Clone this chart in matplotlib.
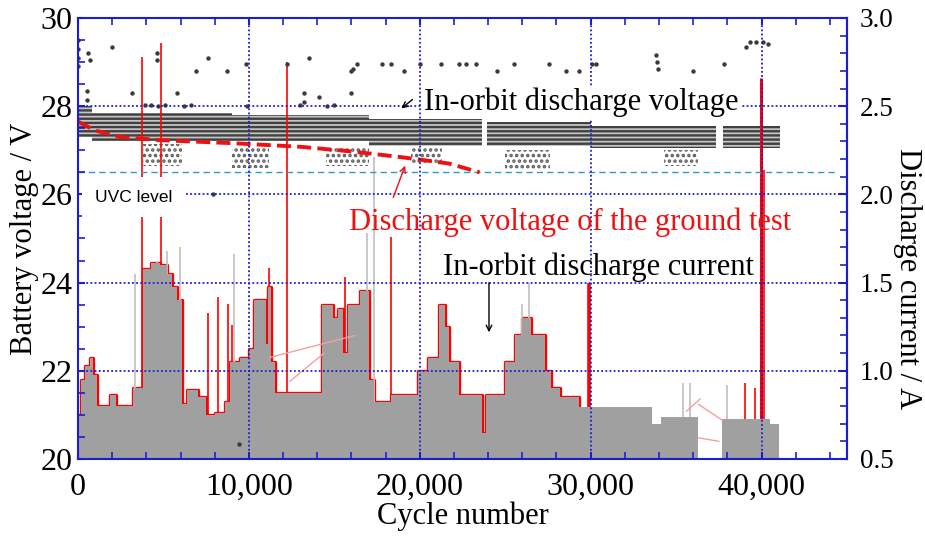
import matplotlib
matplotlib.use("Agg")
import matplotlib.pyplot as plt
from matplotlib.ticker import MultipleLocator, FixedLocator, FuncFormatter
import numpy as np

plt.rcParams['font.family'] = ['Liberation Serif', 'DejaVu Serif']
plt.rcParams['hatch.linewidth'] = 1.7

BLUE = '#1c1cd6'
GRAY = '#a0a0a0'

# discharge current per cycle (A), stepwise
cur_cycle = [0, 200, 400, 700, 900, 1100, 1900, 2200, 3200, 3800,
             4300, 4800, 5200, 5500, 5800, 6100, 6400, 7000, 7500, 8000,
             8600, 8900, 9500, 10000, 10300, 11000, 11100, 11300, 11500, 14300,
             14900, 15200, 15500, 15800, 16500, 17000, 17300, 18300, 19900, 20500,
             21100, 21500, 21700, 22300, 23650, 23900, 25000, 25600, 26000, 26500,
             27300, 27700, 28200, 29300, 33600, 34100, 36300, 37700, 40500, 41000]
cur_amp = [0.75, 0.95, 1.025, 1.075, 0.975, 0.80, 0.86, 0.80, 0.90, 1.575,
           1.61, 1.60, 1.55, 1.475, 1.40, 0.81, 0.89, 0.85, 0.75, 0.76,
           0.825, 1.05, 1.075, 1.125, 1.40, 1.15, 1.475, 1.05, 0.875, 1.375,
           1.30, 1.35, 1.10, 1.375, 1.45, 0.95, 0.825, 0.86, 1.00, 1.075,
           1.375, 1.25, 1.05, 0.86, 0.65, 0.86, 1.05, 1.20, 1.30, 1.20,
           1.00, 0.90, 0.85, 0.795, 0.70, 0.74, 0.50, 0.725, 0.70, 0.50]

# single-cycle current peaks
red_spike_cycle = [3740, 4850, 7590, 8170, 8760, 9000, 11200, 12260, 15600,
                   18300, 29900, 39050, 39600, 39950, 40150]
red_spike_amp = [2.78, 2.86, 1.33, 1.42, 1.38, 1.26, 1.58, 2.75, 1.53,
                 1.76, 1.50, 0.93, 0.90, 2.66, 2.14]
gray_spike_cycle = [3330, 4650, 5200, 5950, 9150, 16900, 17300, 26000, 26400,
                    35400, 35800, 38000]
gray_spike_amp = [1.55, 1.62, 1.68, 1.70, 1.66, 1.78, 2.21, 1.38, 1.50,
                  0.93, 0.93, 0.92]

# telemetry jumps across data gaps
jump_c0 = [11200, 12400, 35600, 36300, 36300]
jump_a0 = [1.075, 0.94, 0.77, 0.81, 0.62]
jump_c1 = [16200, 14400, 36400, 37700, 37500]
jump_a1 = [1.20, 1.10, 0.84, 0.72, 0.60]

# in-orbit discharge voltage: main band and lower scatter clusters (V)
band_start = [0, 800, 9000, 17000, 23950, 30000, 37750]
band_end = [800, 9000, 17000, 23650, 30000, 37350, 41050]
band_top = [28.0, 27.85, 27.8, 27.7, 27.65, 27.55, 27.55]
band_bottom = [27.3, 27.2, 27.2, 27.1, 27.1, 27.05, 27.05]

low_start = [3800, 9000, 14500, 19500, 25000, 34300]
low_end = [6100, 11200, 17000, 21300, 27600, 36300]
low_top = [27.15, 27.1, 27.05, 27.05, 27.0, 27.0]
low_bottom = [26.65, 26.6, 26.65, 26.7, 26.55, 26.65]

out_cycle = [0, 0, 0, 0, 550, 550, 600, 700, 2000, 3150,
             4600, 4600, 5800, 6900, 7600, 7900, 8700, 9850, 12250, 13200,
             13200, 13500, 14100, 16000, 16100, 16300, 16000, 17800, 18300, 19100,
             20000, 21250, 22300, 22700, 23300, 24500, 25500, 27550, 28550, 29300,
             30050, 30300, 33850, 33900, 33950, 36000, 37800, 39100, 39300, 39700,
             40100, 40400, 9450,
             3900, 4300, 4700, 5100, 6200, 6600, 9900, 13000, 14600, 15000]
out_volt = [29.5, 29.3, 29.1, 28.9, 28.35, 28.15, 29.2, 29.05, 29.35, 28.3,
            29.2, 29.05, 28.3, 28.8, 29.1, 26.0, 28.8, 28.95, 28.95, 28.3,
            28.1, 29.1, 28.2, 28.8, 28.85, 28.95, 28.3, 28.95, 28.95, 28.8,
            28.95, 28.95, 28.95, 28.95, 28.95, 28.8, 28.95, 28.95, 28.8, 28.8,
            28.95, 28.95, 29.15, 29.0, 28.85, 28.8, 28.95, 29.35, 29.45, 29.45,
            29.45, 29.4, 20.35,
            28.03, 28.03, 28.0, 28.03, 28.0, 28.03, 28.0, 28.03, 28.0, 28.03]

# ground test discharge voltage
ground_cycle = [0, 1000, 2500, 4800, 9100, 13000, 16100, 18800, 21700, 23500]
ground_volt = [27.65, 27.45, 27.3, 27.23, 27.16, 27.08, 26.97, 26.85, 26.7, 26.5]

uvc_level = 26.5
uvc_span = [0, 44300]

current_ticks = [0.5, 1.0, 1.5, 2.0, 2.5, 3.0]


def a_to_v(a):
    return 20 + (np.asarray(a, dtype=float) - 0.5) * 4


def v_to_a(v):
    return 0.5 + (np.asarray(v, dtype=float) - 20) / 4


fig = plt.figure(figsize=(9.25, 5.37), dpi=100)
ax = fig.add_axes([0.0843, 0.1453, 0.8314, 0.8212])
ax.set_xlim(0, 45000)
ax.set_ylim(20, 30)

# current (drawn in voltage units, read on the right axis)
cc = np.array(cur_cycle)
ca = np.array(cur_amp)
ax.fill_between(cc, 20, a_to_v(ca), step='post', color=GRAY, lw=0, zorder=1.4)
m = cc <= 29300
ax.step(cc[m], a_to_v(ca[m]), where='post', color='red', lw=2.4, zorder=1.1)
widths = [1.2] * len(red_spike_cycle)
widths[red_spike_cycle.index(29900)] = 2.6
widths[red_spike_cycle.index(39950)] = 2.2
ax.vlines(red_spike_cycle, 20, a_to_v(red_spike_amp), color='red',
          linewidths=widths, zorder=1.3)
ax.vlines(gray_spike_cycle, 20, a_to_v(gray_spike_amp), color='#c4c4c4',
          linewidths=1.3, zorder=1.35)
for c0, a0, c1, a1 in zip(jump_c0, jump_a0, jump_c1, jump_a1):
    ax.plot([c0, c1], a_to_v([a0, a1]), color='#f4a0a0', lw=1.0, zorder=1.45)

# voltage band
for s, e, t, b in zip(band_start, band_end, band_top, band_bottom):
    ax.fill_between([s, e], b, t, facecolor='#c4c4c4', edgecolor='#404040',
                    hatch='----', lw=0, zorder=1.0)
for s, e, t, b in zip(low_start, low_end, low_top, low_bottom):
    ax.fill_between([s, e], b, t, facecolor='none', edgecolor='#5a5a5a',
                    hatch='...', lw=0, zorder=1.0)
ax.scatter(out_cycle, out_volt, s=10, color='#3a3a3a', lw=0, zorder=2)

ax.plot(ground_cycle, ground_volt, color='#ee1111', lw=2.8,
        linestyle=(0, (3.6, 1.6)), zorder=2.2)
ax.plot(uvc_span, [uvc_level, uvc_level], color='#2a9ad0', lw=1.0,
        linestyle=(0, (4.5, 3.0)), zorder=2.1)

# axes styling
ax.set_axisbelow(False)
ax.grid(True, which='major', color=BLUE, linestyle=(0, (1, 1.3)), lw=1.3)
ax.xaxis.set_major_locator(MultipleLocator(10000))
ax.xaxis.set_minor_locator(MultipleLocator(2000))
ax.yaxis.set_major_locator(MultipleLocator(2))
ax.yaxis.set_minor_locator(MultipleLocator(0.5))
ax.xaxis.set_major_formatter(FuncFormatter(lambda v, p: f'{int(v):,}'))
for t in ax.xaxis.get_major_ticks():
    if abs(t.get_loc() - 40000) < 1:
        t.gridline.set_linewidth(2.6)
ax.tick_params(which='both', direction='in', color=BLUE, top=True, right=False,
               labelsize=23)
ax.tick_params(which='major', length=5, width=1.5)
ax.tick_params(which='minor', length=5, width=1.2)
ax.tick_params(axis='x', pad=10)
ax.tick_params(axis='y', pad=4)
for sp in ax.spines.values():
    sp.set_color(BLUE)
    sp.set_linewidth(1.5)

sec = ax.secondary_yaxis('right', functions=(v_to_a, a_to_v))
sec.yaxis.set_major_locator(FixedLocator(current_ticks))
sec.yaxis.set_minor_locator(FixedLocator(np.arange(5, 31) / 10))
sec.yaxis.set_major_formatter(FuncFormatter(lambda v, p: f'{v:.1f}'))
sec.tick_params(which='both', direction='in', color=BLUE, labelsize=19.5, pad=9)
sec.tick_params(which='major', length=6, width=1.5)
sec.tick_params(which='minor', length=5, width=1.2)
sec.spines['right'].set_color(BLUE)
sec.spines['right'].set_linewidth(1.5)
sec.set_ylabel('Discharge current / A', fontsize=22, rotation=270,
               va='center', ha='center')
sec.yaxis.set_label_coords(1.078, 0.41, transform=ax.transAxes)

ax.set_xlabel('Cycle number', fontsize=22, labelpad=0)
ax.set_ylabel('Battery voltage / V', fontsize=22, labelpad=1)

# annotations
ax.text(29450, 27.91, 'In-orbit discharge voltage', fontsize=22, ha='center',
        va='baseline', zorder=3,
        bbox=dict(facecolor='white', edgecolor='none', pad=1))
ax.annotate('', xy=(18800, 27.91), xytext=(19700, 28.19),
            arrowprops=dict(arrowstyle='->', color='black', lw=1.0), zorder=3)
ax.text(28810, 25.19, 'Discharge voltage of the ground test', fontsize=22,
        color='#ee1111', ha='center', va='baseline', zorder=3)
ax.annotate('', xy=(19200, 26.71), xytext=(18390, 25.87),
            arrowprops=dict(arrowstyle='->', color='#ee1111', lw=1.0), zorder=3)
ax.text(30470, 24.17, 'In-orbit discharge current', fontsize=22, ha='center',
        va='baseline', zorder=3)
ax.annotate('', xy=(24050, 22.81), xytext=(24050, 24.06),
            arrowprops=dict(arrowstyle='->', color='black', lw=1.0), zorder=3)
ax.text(990, 25.94, 'UVC level', fontsize=12.5, family=['Liberation Sans', 'DejaVu Sans'],
        ha='left', va='center', zorder=3,
        bbox=dict(facecolor='white', edgecolor='none', pad=9))

fig.savefig('out.png', dpi=100)
